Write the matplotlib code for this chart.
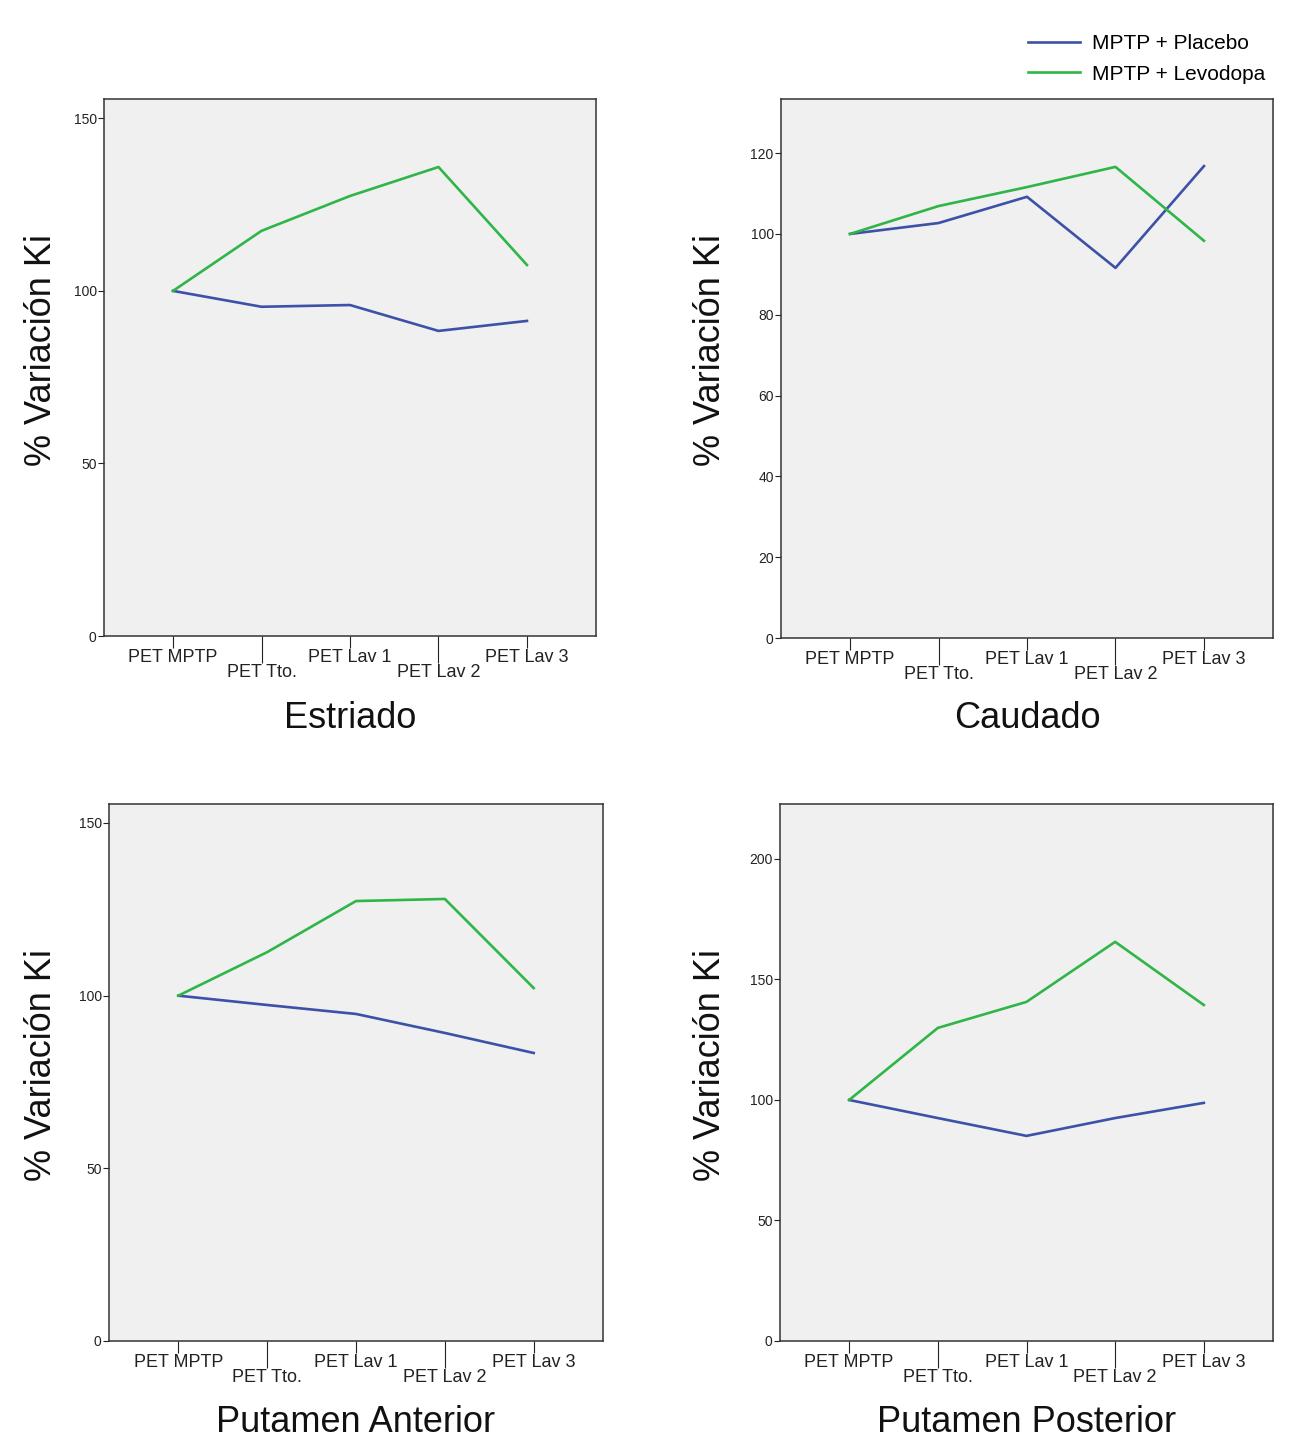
import matplotlib
matplotlib.use("Agg")
import matplotlib.pyplot as plt
from matplotlib.lines import Line2D

plt.rcParams['font.family'] = ['Liberation Sans', 'DejaVu Sans']

categories = ["PET MPTP", "PET Tto.", "PET Lav 1", "PET Lav 2", "PET Lav 3"]
series_names = ["MPTP + Placebo", "MPTP + Levodopa"]

estriado_placebo = [100, 95.4, 95.9, 88.4, 91.3]
estriado_levodopa = [100, 117.4, 127.5, 135.9, 107.5]

caudado_placebo = [100, 102.7, 109.2, 91.6, 116.8]
caudado_levodopa = [100, 106.9, 111.6, 116.6, 98.3]

put_ant_placebo = [100, 97.3, 94.7, 89.2, 83.4]
put_ant_levodopa = [100, 112.6, 127.4, 128.0, 102.2]

put_post_placebo = [100, 92.5, 85.1, 92.5, 98.8]
put_post_levodopa = [100, 129.9, 140.7, 165.6, 139.4]

panel_titles = ["Estriado", "Caudado", "Putamen Anterior", "Putamen Posterior"]
panel_data = [
    (estriado_placebo, estriado_levodopa),
    (caudado_placebo, caudado_levodopa),
    (put_ant_placebo, put_ant_levodopa),
    (put_post_placebo, put_post_levodopa),
]
panel_ylim = [155.6, 133.4, 155.5, 222.8]
panel_yticks = [[0, 50, 100, 150], [0, 20, 40, 60, 80, 100, 120],
                [0, 50, 100, 150], [0, 50, 100, 150, 200]]

BLUE = "#3d51a8"
GREEN = "#2fb548"
SPINE = "#333333"

W, H = 1293, 1438
fig = plt.figure(figsize=(W / 100, H / 100), dpi=100, facecolor="white")

# axes boxes in pixels: left, right, top, bottom
boxes = [(104, 596, 99, 636), (781, 1273, 99, 638),
         (109, 603, 804, 1341), (780, 1273, 804, 1341)]
ylabel_px = [(42, 350), (710, 350), (42, 1065), (710, 1065)]
title_py = [718, 718, 1423, 1423]

for i, (l, r, t, b) in enumerate(boxes):
    ax = fig.add_axes([l / W, 1 - b / H, (r - l) / W, (b - t) / H])
    ax.set_facecolor("#f0f0f0")
    pla, lev = panel_data[i]
    x = list(range(len(categories)))
    ax.plot(x, pla, color=BLUE, lw=1.9, solid_joinstyle="round")
    ax.plot(x, lev, color=GREEN, lw=1.9, solid_joinstyle="round")
    ax.set_xlim(-0.78, 4.78)
    ax.set_ylim(0, panel_ylim[i])
    ax.set_yticks(panel_yticks[i])
    ax.tick_params(axis="y", labelsize=10, length=4.3, width=0.8, pad=1, colors="#222222")
    ax.set_xticks([0, 2, 4])
    ax.set_xticklabels([categories[0], categories[2], categories[4]])
    ax.set_xticks([1, 3], minor=True)
    ax.set_xticklabels([categories[1], categories[3]], minor=True)
    ax.tick_params(axis="x", which="major", labelsize=13, length=8.6, width=0.8, pad=1, colors="#222222")
    ax.tick_params(axis="x", which="minor", labelsize=13, length=19.4, width=0.8, pad=1, colors="#222222")
    for s in ax.spines.values():
        s.set_color(SPINE)
        s.set_linewidth(1.1)
    lx, ly = ylabel_px[i]
    fig.text(lx / W, 1 - ly / H, "% Variación Ki", rotation=90, fontsize=26,
             ha="center", va="center", color="#111111")
    fig.text(((l + r) / 2) / W, 1 - title_py[i] / H, panel_titles[i], fontsize=26,
             ha="center", va="center", color="#111111")

handles = [Line2D([], [], color=BLUE, lw=1.9), Line2D([], [], color=GREEN, lw=1.9)]
fig.legend(handles, series_names, loc="center left", bbox_to_anchor=(1028 / W, 1 - 59 / H),
           frameon=False, fontsize=15, handlelength=2.5, handletextpad=0.58,
           labelspacing=0.54, borderpad=0, borderaxespad=0)

fig.savefig("out.png", dpi=100, facecolor="white")
